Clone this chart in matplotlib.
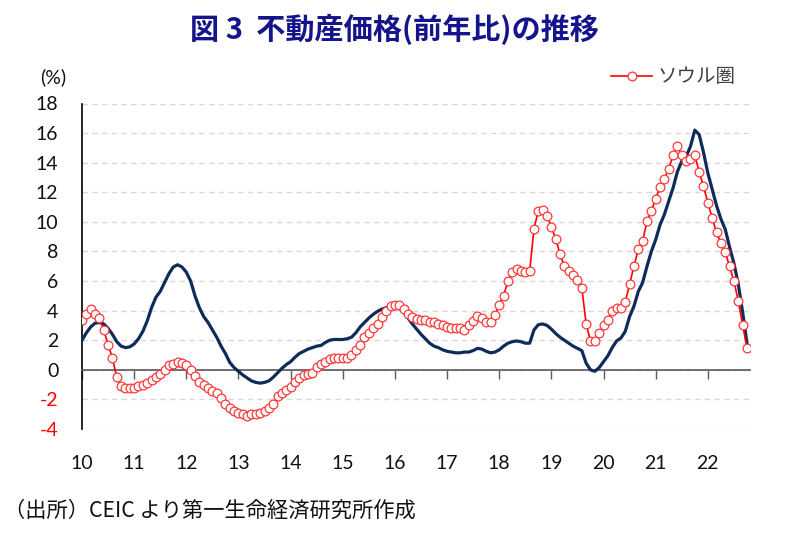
import numpy as np
import matplotlib
matplotlib.use('Agg')
import matplotlib.pyplot as plt

# ---- data (monthly, 2010-01 .. 2022-10) ----
years = ['10', '11', '12', '13', '14', '15', '16', '17', '18', '19', '20', '21', '22']

seoul = [3.4, 3.8, 4.1, 3.8, 3.5, 2.7, 1.7, 0.8, -0.5, -1.1, -1.2, -1.2,
         -1.2, -1.1, -1.0, -0.9, -0.7, -0.5, -0.3, 0.0, 0.3, 0.4, 0.5, 0.45,
         0.3, 0.0, -0.4, -0.8, -1.0, -1.2, -1.4, -1.6, -1.9, -2.3, -2.6, -2.8,
         -2.9, -3.0, -3.1, -3.0, -3.0, -2.9, -2.8, -2.6, -2.3, -1.8, -1.6, -1.35,
         -1.15, -0.8, -0.55, -0.35, -0.25, -0.2, 0.2, 0.4, 0.55, 0.7, 0.8, 0.8,
         0.8, 0.8, 1.0, 1.35, 1.7, 2.2, 2.5, 2.85, 3.1, 3.6, 4.0, 4.3,
         4.4, 4.4, 4.1, 3.8, 3.6, 3.45, 3.35, 3.35, 3.25, 3.2, 3.1, 3.0,
         2.9, 2.85, 2.85, 2.85, 2.7, 3.0, 3.3, 3.65, 3.5, 3.25, 3.25, 3.7,
         4.4, 5.0, 6.0, 6.6, 6.8, 6.65, 6.6, 6.65, 9.55, 10.75, 10.8, 10.4,
         9.65, 8.85, 7.8, 7.0, 6.7, 6.4, 6.1, 5.55, 3.1, 1.95, 1.95, 2.5,
         3.0, 3.35, 4.0, 4.15, 4.15, 4.6, 5.8, 7.0, 8.15, 8.7, 10.05, 10.75,
         11.55, 12.35, 12.9, 13.6, 14.5, 15.1, 14.5, 14.1, 14.25, 14.5, 13.4, 12.4,
         11.3, 10.25, 9.3, 8.55, 7.95, 7.0, 6.0, 4.65, 3.05, 1.5]

nation = [2.0, 2.5, 2.9, 3.15, 3.2, 3.1, 2.8, 2.4, 1.9, 1.6, 1.5, 1.55,
          1.75, 2.1, 2.6, 3.3, 4.2, 4.9, 5.3, 5.9, 6.5, 6.95, 7.1, 6.95,
          6.6, 6.0, 5.0, 4.2, 3.6, 3.2, 2.7, 2.2, 1.6, 1.1, 0.5, 0.15,
          -0.1, -0.35, -0.55, -0.75, -0.85, -0.9, -0.85, -0.75, -0.5, -0.2, 0.1, 0.35,
          0.55, 0.85, 1.1, 1.25, 1.4, 1.5, 1.6, 1.65, 1.85, 2.0, 2.05, 2.05,
          2.05, 2.1, 2.2, 2.5, 2.9, 3.2, 3.5, 3.75, 3.95, 4.1, 4.2, 4.25,
          4.25, 4.15, 3.9, 3.5, 3.1, 2.75, 2.4, 2.1, 1.8, 1.6, 1.5, 1.35,
          1.25, 1.2, 1.15, 1.15, 1.2, 1.2, 1.3, 1.45, 1.4, 1.25, 1.15, 1.2,
          1.35, 1.6, 1.8, 1.9, 1.95, 1.9, 1.8, 1.8, 2.7, 3.05, 3.1, 3.0,
          2.75, 2.45, 2.2, 2.0, 1.8, 1.6, 1.45, 1.3, 0.45, 0.0, -0.1, 0.15,
          0.55, 0.95, 1.5, 1.95, 2.15, 2.6, 3.6, 4.3, 5.3, 5.9, 7.0, 8.0,
          8.8, 9.8, 10.5, 11.4, 12.3, 13.4, 14.1, 14.4, 15.1, 16.2, 15.9, 14.7,
          13.3, 12.2, 11.1, 10.2, 9.5, 8.3, 7.2, 5.8, 3.9, 1.8]

yticks = [-4, -2, 0, 2, 4, 6, 8, 10, 12, 14, 16, 18]

# ---- figure ----
fig = plt.figure(figsize=(7.89, 5.33), dpi=100)
ax = fig.add_axes([82/789, 1-429/533, 668/789, 325.5/533])

x = np.arange(len(seoul))
ax.plot(x, nation, color='#0f2b5b', lw=2.3, zorder=3, label='_nolegend_')
ax.plot(x, seoul, color='#ff0000', lw=1.2, marker='o', ms=6.3, mfc='white',
        mec='#ff3838', mew=0.9, zorder=4, label='ソウル圏')

ax.set_xlim(0, 153.7)
ax.set_ylim(-4, 18)

ax.spines['top'].set_visible(False)
ax.spines['right'].set_visible(False)
ax.spines['left'].set_color('#000000')
ax.spines['left'].set_linewidth(1.2)
ax.spines['bottom'].set_position(('data', 0))
ax.spines['bottom'].set_color('#595959')
ax.spines['bottom'].set_linewidth(1.2)

ax.tick_params(axis='y', length=0, pad=17, labelsize=14)
ax.tick_params(axis='x', length=6.5, width=1, color='#595959', direction='out',
               pad=55, labelsize=14)

# dashed horizontal grid
ax.set_yticks(yticks)
ax.set_yticklabels([str(v) for v in yticks], family='Lato', fontsize=14)
ax.yaxis.grid(True, color='#d9d9d9', lw=1, ls=(0, (4, 3)), zorder=0)
ax.set_axisbelow(True)
for lbl, v in zip(ax.get_yticklabels(), yticks):
    lbl.set_color('#ff0000' if v < 0 else '#111111')

ax.set_xticks(range(0, 145, 12))
ax.set_xticklabels(years, family='Lato', fontsize=14, color='#111111')

ax.legend(loc='center right', bbox_to_anchor=(736/789, 1-77/533),
          bbox_transform=fig.transFigure, frameon=False,
          prop={'family': 'Noto Sans CJK JP', 'size': 14},
          handlelength=2.1, handletextpad=0.3, borderpad=0, borderaxespad=0,
          labelcolor='#404040')

fig.text(0.5, 1-29/533, '図 3  不動産価格(前年比)の推移', ha='center', va='center',
         fontsize=21, fontweight='bold', color='#14148c', family='Noto Sans CJK JP')
fig.text(53/789, 1-77/533, '(%)', ha='center', va='center', fontsize=14,
         family='Lato', color='#111111')
fig.text(4/789, 1-511/533, '（出所）CEIC より第一生命経済研究所作成', ha='left', va='center',
         fontsize=15.3, family='Noto Sans CJK JP', color='#111111')

fig.savefig('out.png', dpi=100)
